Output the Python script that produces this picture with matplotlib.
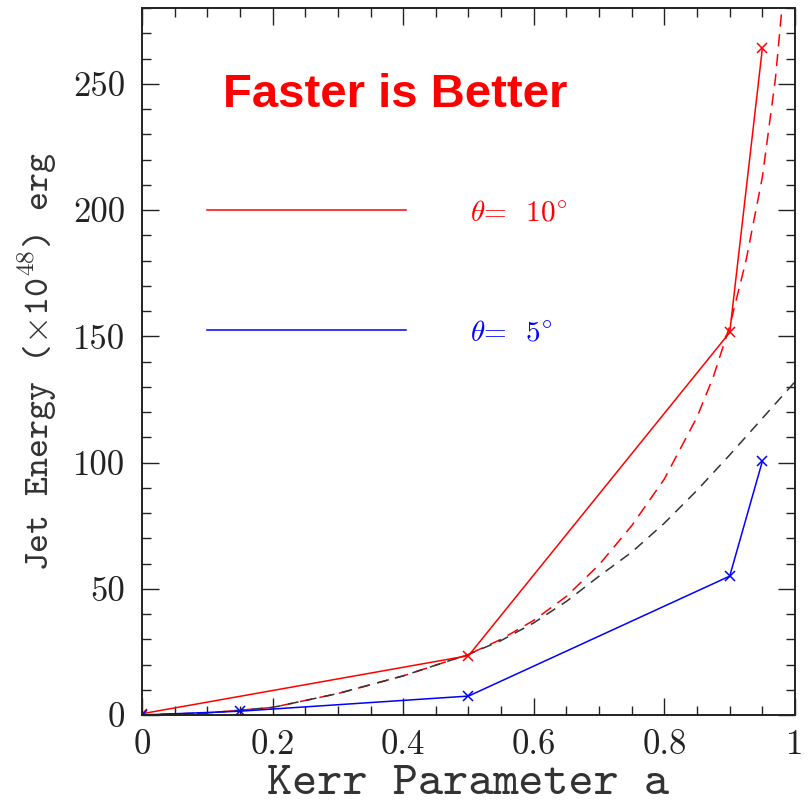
# jet energy vs Kerr parameter

import numpy as np
import matplotlib
matplotlib.use("Agg")
import matplotlib.pyplot as plt
from matplotlib.ticker import MultipleLocator
from matplotlib.lines import Line2D

# data
a_10deg = [0.0, 0.5, 0.9, 0.95]
E_10deg = [0.5, 23.5, 151.5, 264]

a_5deg = [0.0, 0.15, 0.5, 0.9, 0.95]
E_5deg = [0.0, 1.5, 7.5, 55, 100.5]

# dashed red curve (sampled by eye)
a_red_dash = [0.0, 0.1, 0.2, 0.3, 0.4, 0.5, 0.55, 0.6, 0.65, 0.7, 0.75, 0.8, 0.85,
              0.875, 0.9, 0.925, 0.95, 0.97, 0.98]
E_red_dash = [0.0, 0.8, 3.0, 8.5, 15.5, 24, 30, 37.5, 47, 59.5, 75, 93.5, 118,
              134, 154, 180, 213, 252, 280]

# dashed black curve (sampled by eye)
a_blk_dash = [0.0, 0.1, 0.2, 0.3, 0.4, 0.5, 0.55, 0.6, 0.65, 0.7, 0.75, 0.8, 0.85, 0.9, 0.95, 1.0]
E_blk_dash = [0.0, 0.8, 3.0, 8.5, 15.5, 24, 29.5, 36.5, 45, 55, 64.5, 76, 89, 103, 117.5, 132]

x_ticks = [0, 0.2, 0.4, 0.6, 0.8, 1.0]
x_labels = ["0", "0.2", "0.4", "0.6", "0.8", "1"]
y_ticks = [0, 50, 100, 150, 200, 250]

plt.rcParams["mathtext.fontset"] = "cm"
serif = ["cmr10", "DejaVu Serif"]
tt = ["cmtt10", "DejaVu Sans Mono"]
ink = "#222222"

fig = plt.figure(figsize=(8.09, 8.05), dpi=100)
ax = fig.add_axes([0.1755, 0.1118, 0.8072, 0.8782])

ax.plot(a_red_dash, E_red_dash, color="red", lw=1.1, dashes=(8, 5))
ax.plot(a_blk_dash, E_blk_dash, color="#333333", lw=1.1, dashes=(7, 5))
ax.plot(a_10deg, E_10deg, color="red", lw=1.1, marker="x", ms=7, mew=1.1)
ax.plot(a_5deg, E_5deg, color="blue", lw=1.1, marker="x", ms=7, mew=1.1)

ax.set_xlim(0, 1)
ax.set_ylim(0, 280)
ax.set_xticks(x_ticks)
ax.set_xticklabels(x_labels)
ax.set_yticks(y_ticks)
ax.xaxis.set_minor_locator(MultipleLocator(0.05))
ax.yaxis.set_minor_locator(MultipleLocator(10))

ax.tick_params(which="both", direction="in", top=True, right=True, width=1.0, color=ink)
ax.tick_params(which="major", length=12)
ax.tick_params(which="minor", length=6.5)
ax.tick_params(axis="x", pad=10)
ax.tick_params(axis="y", pad=12)
for lab in ax.get_xticklabels() + ax.get_yticklabels():
    lab.set_family(serif)
    lab.set_fontsize(25)
    lab.set_color(ink)
for sp in ax.spines.values():
    sp.set_linewidth(1.4)
    sp.set_color(ink)

ax.set_xlabel("Kerr Parameter a", family=tt, fontsize=34.5, color="#333333", labelpad=3)
ax.set_ylabel(r"Jet Energy ($\times$10$^{48}$) erg", family=tt, fontsize=26, color="#333333",
              labelpad=10)

ax.text(0.124, 241, "Faster is Better", color="red", fontsize=34, fontweight="bold",
        family="Liberation Sans", va="baseline", ha="left")

handles = [Line2D([], [], color="red", lw=1.1), Line2D([], [], color="blue", lw=1.1)]
labels = [r"$\theta$=  10$^{\circ}$", r"$\theta$=  5$^{\circ}$"]
ax.legend(handles, labels, loc="center left", bbox_to_anchor=(0.1, 0.625), frameon=False,
          handlelength=6.8, handletextpad=2.2, labelspacing=3.2,
          labelcolor="linecolor", borderpad=0, borderaxespad=0, prop={"family": serif, "size": 21})

fig.savefig("out.png", dpi=100)
